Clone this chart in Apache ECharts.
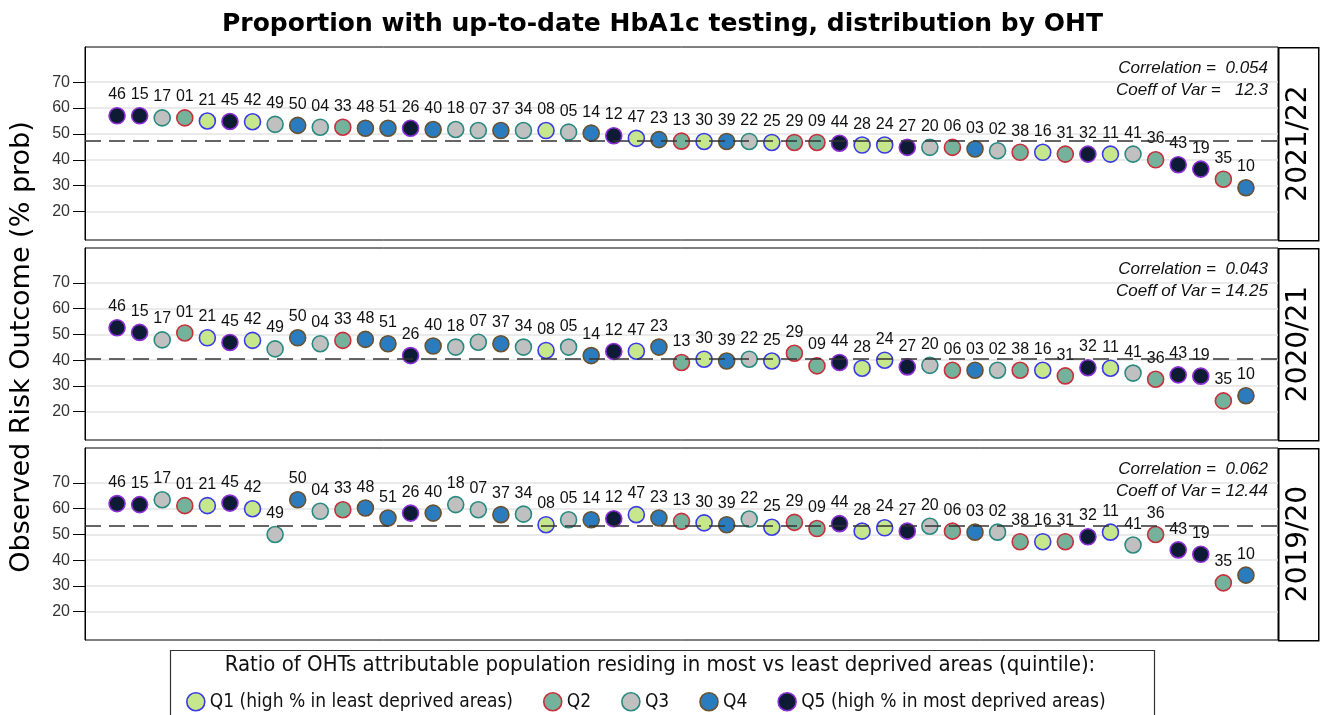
<!DOCTYPE html>
<html>
<head>
<meta charset="utf-8">
<title>HbA1c testing by OHT</title>
<script src="https://cdn.jsdelivr.net/npm/echarts@6/dist/echarts.min.js"></script>
<style>
  html, body { margin: 0; padding: 0; background: #fff; }
  #chart { width: 1325px; height: 715px; }
</style>
</head>
<body>
<div id="chart"></div>
<script>
// OHT codes, in plotted order (sorted on 2021/22)
const ohts = ['46','15','17','01','21','45','42','49','50','04','33','48','51','26','40','18','07','37','34','08','05','14','12','47','23','13','30','39','22','25','29','09','44','28','24','27','20','06','03','02','38','16','31','32','11','41','36','43','19','35','10'];
// deprivation quintile of each OHT (1..5)
const quintiles = [5,5,3,2,1,5,1,3,4,3,2,4,4,5,4,3,3,4,3,1,3,4,5,1,4,2,1,4,3,1,2,2,5,1,1,5,3,2,4,3,2,1,2,5,1,3,2,5,5,2,4];

const years = ['2021/22', '2020/21', '2019/20'];
const values2122 = [57.0,57.0,56.2,56.2,55.0,54.8,54.7,53.7,53.3,52.6,52.6,52.2,52.2,52.2,51.7,51.7,51.3,51.3,51.3,51.3,50.7,50.3,49.3,48.3,47.8,47.2,47.1,47.1,47.1,46.7,46.7,46.7,46.4,45.7,45.7,44.8,44.8,44.8,44.2,43.5,42.9,42.9,42.2,42.2,42.2,42.2,40.0,38.1,36.4,32.5,29.2];
const values2021 = [52.6,50.8,47.9,50.6,48.7,46.9,47.7,44.4,48.7,46.4,47.7,48.1,46.4,41.8,45.5,45.1,47.0,46.4,45.1,43.8,45.1,41.8,43.4,43.5,45.1,39.1,40.4,39.7,40.4,39.7,42.7,37.8,39.1,36.9,40.0,37.4,38.0,36.1,36.1,36.1,36.1,36.1,33.9,37.1,36.9,35.0,32.6,34.3,33.8,24.2,26.2];
const values1920 = [62.0,61.6,63.5,61.2,61.2,62.2,60.0,50.0,63.5,59.0,59.6,60.3,56.4,58.3,58.3,61.6,59.6,57.7,57.9,53.8,55.7,55.7,56.1,57.7,56.4,55.1,54.5,53.8,56.0,52.8,54.7,52.3,54.2,51.3,52.6,51.3,53.2,51.3,50.9,50.9,47.2,47.2,47.2,49.1,50.9,45.9,50.0,44.0,42.3,31.2,34.2];
const yearValues = [values2122, values2021, values1920];
// overall proportion (dashed reference line) per year
const refValues = [47.2, 40.4, 53.2];
const correlations = ['0.054', '0.043', '0.062'];
const coeffVars = ['  12.3', '14.25', '12.44'];

const yTicks = [20, 30, 40, 50, 60, 70];

const quintileNames = [
  'Q1 (high % in least deprived areas)',
  'Q2',
  'Q3',
  'Q4',
  'Q5 (high % in most deprived areas)'
];
const fills = ['#c6e78b', '#74b29b', '#c0c0c0', '#2b7cbf', '#0e1b34'];
const borders = ['#3b3be6', '#c7303c', '#2a8a80', '#6a5230', '#8b2fd6'];

const panelTops = [47, 248, 448];
const panelHeights = [193, 192, 192];
const plotRight = 1278;

const labelFont = "'Liberation Sans', Arial, sans-serif";
const narrowFont = "'Liberation Sans Narrow', 'DejaVu Sans Condensed', 'Liberation Sans', sans-serif";

const chart = echarts.init(document.getElementById('chart'));

const grids = [], xAxes = [], yAxes = [], series = [], graphics = [];

years.forEach((year, i) => {
  grids.push({
    left: 85, width: plotRight - 85, top: panelTops[i], height: panelHeights[i],
    show: true, borderColor: '#000', borderWidth: 1, backgroundColor: 'transparent'
  });
  xAxes.push({
    type: 'value', gridIndex: i, min: -1.42, max: ohts.length - 1 + 1.42, show: false
  });
  yAxes.push({
    type: 'value', gridIndex: i, min: 9, max: 83.6,
    axisLine: { show: true, onZero: false, lineStyle: { color: '#000', width: 1 } },
    axisTick: { show: true, length: 12, customValues: yTicks, lineStyle: { color: '#000' } },
    axisLabel: { customValues: yTicks, margin: 15, fontSize: 16, color: '#333', fontFamily: labelFont },
    splitLine: { show: true, lineStyle: { color: '#e3e3e3', width: 1.5 } }
  });

  const vals = yearValues[i];
  quintileNames.forEach((qName, q) => {
    const data = [];
    ohts.forEach((code, k) => {
      if (quintiles[k] === q + 1) data.push({ name: code, value: [k, vals[k]] });
    });
    series.push({
      type: 'scatter', name: qName, xAxisIndex: i, yAxisIndex: i,
      symbol: 'circle', symbolSize: 16, data: data, z: 2,
      itemStyle: { color: fills[q], borderColor: borders[q], borderWidth: 1.6, opacity: 1 },
      label: {
        show: true, position: 'top', distance: 4, formatter: '{b}',
        fontSize: 16, color: '#111', fontFamily: labelFont
      },
      emphasis: { disabled: true }
    });
  });

  // dashed overall line
  series.push({
    type: 'line', name: 'ref' + i, xAxisIndex: i, yAxisIndex: i, data: [], z: 4,
    markLine: {
      silent: true, symbol: ['none', 'none'], label: { show: false },
      lineStyle: { color: '#333', type: [16, 8], width: 1.6 },
      data: [{ yAxis: refValues[i] }]
    }
  });

  // year strip on the right
  graphics.push({
    type: 'rect', left: plotRight, top: panelTops[i],
    shape: { width: 40, height: panelHeights[i] },
    style: { fill: '#fff', stroke: '#000', lineWidth: 1.5 }
  });
  graphics.push({
    type: 'text', x: plotRight + 21, y: panelTops[i] + panelHeights[i] / 2, rotation: Math.PI / 2,
    style: { text: year, fontSize: 28, fontFamily: 'DejaVu Sans', fill: '#000', align: 'center', verticalAlign: 'middle' }
  });
  // stats text
  graphics.push({
    type: 'text', x: 1268, y: panelTops[i] + 21,
    style: { text: 'Correlation =  ' + correlations[i], fontSize: 17, fontStyle: 'italic', fontFamily: labelFont, fill: '#111', align: 'right', verticalAlign: 'middle' }
  });
  graphics.push({
    type: 'text', x: 1268, y: panelTops[i] + 43,
    style: { text: 'Coeff of Var = ' + coeffVars[i], fontSize: 17, fontStyle: 'italic', fontFamily: labelFont, fill: '#111', align: 'right', verticalAlign: 'middle' }
  });
});

// y axis heading shared by the three panels
graphics.push({
  type: 'text', x: 22, y: 347, rotation: Math.PI / 2,
  style: { text: 'Observed Risk Outcome (% prob)', fontSize: 27, fontFamily: 'DejaVu Sans', fill: '#000', align: 'center', verticalAlign: 'middle' }
});

// legend box + heading
graphics.push({
  type: 'rect', left: 168, top: 648,
  shape: { width: 984, height: 80 },
  style: { fill: 'none', stroke: '#333', lineWidth: 1.2 }
});
graphics.push({
  type: 'text', x: 660, y: 665,
  style: {
    text: 'Ratio of OHTs attributable population residing in most vs least deprived areas (quintile):',
    fontSize: 22, fontFamily: narrowFont, fill: '#111', align: 'center', verticalAlign: 'middle'
  }
});

chart.setOption({
  animation: false,
  title: {
    text: 'Proportion with up-to-date HbA1c testing, distribution by OHT',
    left: 'center', top: 7,
    textStyle: { fontSize: 25, fontWeight: 'bold', fontFamily: 'DejaVu Sans', color: '#000' }
  },
  grid: grids,
  xAxis: xAxes,
  yAxis: yAxes,
  legend: {
    data: quintileNames.map((n, q) => ({
      name: n, icon: 'circle',
      itemStyle: { color: fills[q], borderColor: borders[q], borderWidth: 1.6 }
    })),
    left: 181, top: 687, itemWidth: 18, itemHeight: 18, itemGap: 30,
    selectedMode: false,
    textStyle: { fontSize: 19, fontFamily: narrowFont, color: '#111' }
  },
  graphic: graphics,
  series: series
});
</script>
</body>
</html>
